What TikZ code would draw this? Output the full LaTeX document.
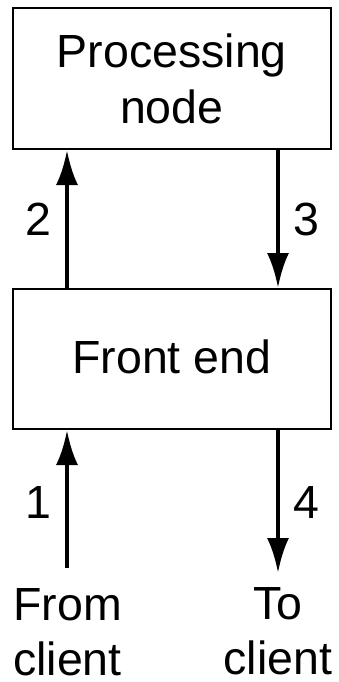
\documentclass[tikz,border=0pt]{standalone}
\usepackage{fontspec}
\setmainfont{Liberation Sans}
\usetikzlibrary{arrows.meta}
\begin{document}
\begin{tikzpicture}[x=1pt,y=-1pt,
  box/.style={draw, line width=2pt, minimum width=318.3pt, inner sep=0pt, align=center, font=\fontsize{46.5}{56}\selectfont},
  arr/.style={line width=4.5pt, -{Latex[length=35pt,width=22pt]}},
  num/.style={inner sep=0pt, font=\fontsize{46.5}{56}\selectfont},
  endlabel/.style={inner sep=0pt, anchor=north, align=center, font=\fontsize{46.5}{55}\selectfont}]
\useasboundingbox (0,0) rectangle (339,682);
\node[box, minimum height=141pt] (pn) at (171.85,78.5) {Processing\\node};
\node[box, minimum height=140pt, text height=34pt, text depth=6pt] (fe) at (171.85,359) {Front end};
\coordinate (xl) at (67,0);
\coordinate (xr) at (278,0);
\coordinate (in) at (67,568);
\coordinate (out) at (278,573);
\draw[arr] (fe.north -| xl) -- (pn.south -| xl);
\draw[arr] (pn.south -| xr) -- (fe.north -| xr);
\draw[arr] (in) -- (fe.south -| xl);
\draw[arr] (fe.south -| xr) -- (out);
\node[num] (l2) at (38.5,219) {2};
\node[num] (l3) at (306.5,219) {3};
\node[num] (l1) at (38.5,502) {1};
\node[num] (l4) at (306.5,502) {4};
\node[endlabel] (from) at (67.5,588) {From\\client};
\node[endlabel] (to) at (278,587) {To\\client};
\end{tikzpicture}
\end{document}
